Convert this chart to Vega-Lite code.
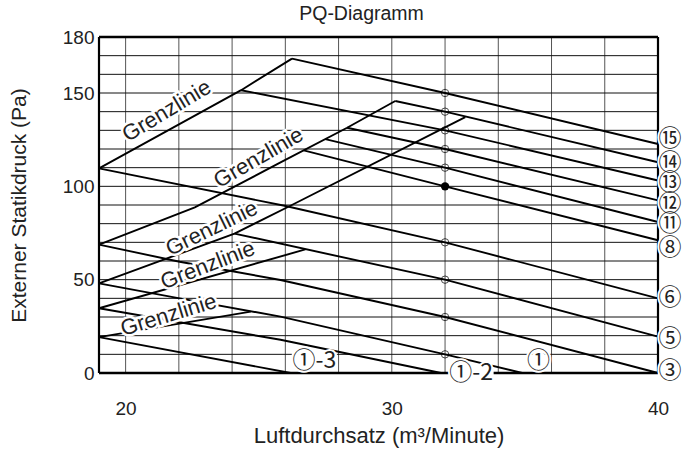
{
  "$schema": "https://vega.github.io/schema/vega-lite/v6.json",
  "width": 559,
  "height": 336,
  "autosize": {"type": "none"},
  "padding": {"left": 99, "top": 37, "right": 27, "bottom": 77},
  "background": "white",
  "title": {"text": "PQ-Diagramm", "fontSize": 19.5, "font": "Liberation Sans", "fontWeight": "normal", "color": "#222", "offset": 4, "dx": -17, "frame": "group"},
  "config": {"view": {"stroke": null}, "font": "Liberation Sans"},
  "datasets": {
    "curves": [
      {"c": "G1", "o": 1, "x": 19, "p": 109.6}, {"c": "G1", "o": 2, "x": 24.34, "p": 151.5}, {"c": "G1", "o": 3, "x": 26.25, "p": 168.4},
      {"c": "L15", "o": 1, "x": 26.25, "p": 168.4}, {"c": "L15", "o": 2, "x": 32, "p": 150}, {"c": "L15", "o": 3, "x": 40, "p": 122.7},
      {"c": "G2", "o": 1, "x": 19, "p": 68.8}, {"c": "G2", "o": 2, "x": 22.6, "p": 88.7}, {"c": "G2", "o": 3, "x": 25.82, "p": 112.8}, {"c": "G2", "o": 4, "x": 28.32, "p": 131.4}, {"c": "G2", "o": 5, "x": 30.13, "p": 145.7},
      {"c": "L14", "o": 1, "x": 30.13, "p": 145.7}, {"c": "L14", "o": 2, "x": 32, "p": 140}, {"c": "L14", "o": 3, "x": 40, "p": 112.9},
      {"c": "L13", "o": 1, "x": 24.34, "p": 151.5}, {"c": "L13", "o": 2, "x": 32, "p": 130}, {"c": "L13", "o": 3, "x": 40, "p": 103.1},
      {"c": "L12", "o": 1, "x": 28.32, "p": 131.4}, {"c": "L12", "o": 2, "x": 32, "p": 120}, {"c": "L12", "o": 3, "x": 40, "p": 92.5},
      {"c": "L11", "o": 1, "x": 27.5, "p": 125.3}, {"c": "L11", "o": 2, "x": 32, "p": 110}, {"c": "L11", "o": 3, "x": 40, "p": 80.9},
      {"c": "L8", "o": 1, "x": 26.69, "p": 119.3}, {"c": "L8", "o": 2, "x": 32, "p": 100}, {"c": "L8", "o": 3, "x": 40, "p": 71.1},
      {"c": "G3", "o": 1, "x": 19, "p": 48}, {"c": "G3", "o": 2, "x": 24.09, "p": 74.7}, {"c": "G3", "o": 3, "x": 26.19, "p": 89.6}, {"c": "G3", "o": 4, "x": 32.76, "p": 137.1},
      {"c": "L6", "o": 1, "x": 19, "p": 109.6}, {"c": "L6", "o": 2, "x": 25.97, "p": 89.6}, {"c": "L6", "o": 3, "x": 32, "p": 70}, {"c": "L6", "o": 4, "x": 40, "p": 40},
      {"c": "L5", "o": 1, "x": 24.09, "p": 74.7}, {"c": "L5", "o": 2, "x": 32, "p": 50}, {"c": "L5", "o": 3, "x": 40, "p": 19.5},
      {"c": "L3", "o": 1, "x": 19, "p": 68.8}, {"c": "L3", "o": 2, "x": 22.03, "p": 59.6}, {"c": "L3", "o": 3, "x": 25.82, "p": 49.8}, {"c": "L3", "o": 4, "x": 32, "p": 30}, {"c": "L3", "o": 5, "x": 40, "p": 0},
      {"c": "L1", "o": 1, "x": 19, "p": 48}, {"c": "L1", "o": 2, "x": 22.03, "p": 40}, {"c": "L1", "o": 3, "x": 25.82, "p": 30.2}, {"c": "L1", "o": 4, "x": 32, "p": 10}, {"c": "L1", "o": 5, "x": 34.9, "p": 0},
      {"c": "L1b", "o": 1, "x": 19, "p": 34.7}, {"c": "L1b", "o": 2, "x": 25.82, "p": 17.8}, {"c": "L1b", "o": 3, "x": 31.85, "p": 0},
      {"c": "L1c", "o": 1, "x": 19, "p": 19.2}, {"c": "L1c", "o": 2, "x": 26.2, "p": 0},
      {"c": "G4", "o": 1, "x": 19, "p": 34.7}, {"c": "G4", "o": 2, "x": 26.75, "p": 66.2},
      {"c": "G5", "o": 1, "x": 19, "p": 19.2}, {"c": "G5", "o": 2, "x": 24.7, "p": 32.9}
    ],
    "gx": [{"v": 20}, {"v": 22}, {"v": 24}, {"v": 26}, {"v": 28}, {"v": 30}, {"v": 32}, {"v": 34}, {"v": 36}, {"v": 38}],
    "gy": [{"v": 10}, {"v": 20}, {"v": 30}, {"v": 40}, {"v": 50}, {"v": 60}, {"v": 70}, {"v": 80}, {"v": 90}, {"v": 100}, {"v": 110}, {"v": 120}, {"v": 130}, {"v": 140}, {"v": 150}, {"v": 160}, {"v": 170}],
    "fx": [{"v": 19}, {"v": 40}],
    "fy": [{"v": 0}, {"v": 180}],
    "pts": [
      {"x": 32, "p": 150, "f": "open"}, {"x": 32, "p": 140, "f": "open"}, {"x": 32, "p": 130, "f": "open"},
      {"x": 32, "p": 120, "f": "open"}, {"x": 32, "p": 110, "f": "open"}, {"x": 32, "p": 100, "f": "filled"},
      {"x": 32, "p": 70, "f": "open"}, {"x": 32, "p": 50, "f": "open"}, {"x": 32, "p": 30, "f": "open"}, {"x": 32, "p": 10, "f": "open"}
    ],
    "glab": [
      {"x": 21.54, "p": 140.5, "a": -31, "t": "Grenzlinie"},
      {"x": 24.99, "p": 115.4, "a": -30, "t": "Grenzlinie"},
      {"x": 23.23, "p": 77.5, "a": -26, "t": "Grenzlinie"},
      {"x": 23.08, "p": 57.8, "a": -21, "t": "Grenzlinie"},
      {"x": 21.61, "p": 31.1, "a": -17, "t": "Grenzlinie"}
    ],
    "rlab": [
      {"x": 40.45, "p": 125.6, "t": "⑮"}, {"x": 40.45, "p": 112.4, "t": "⑭"}, {"x": 40.45, "p": 101.7, "t": "⑬"},
      {"x": 40.45, "p": 90.7, "t": "⑫"}, {"x": 40.45, "p": 80, "t": "⑪"}, {"x": 40.45, "p": 66.7, "t": "⑧"},
      {"x": 40.45, "p": 40, "t": "⑥"}, {"x": 40.45, "p": 18.1, "t": "⑤"}, {"x": 40.45, "p": 0.9, "t": "③"},
      {"x": 27.09, "p": 6.2, "t": "①-3"}, {"x": 32.98, "p": 0.2, "t": "①-2"}, {"x": 35.51, "p": 6.2, "t": "①"}
    ]
  },
  "layer": [
    {
      "data": {"name": "gx"},
      "mark": {"type": "rule", "color": "#555", "strokeWidth": 1},
      "encoding": {
        "x": {"field": "v", "type": "quantitative", "scale": {"domain": [19, 40], "nice": false, "zero": false},
          "axis": {"values": [20, 30, 40], "grid": false, "ticks": false, "domain": false,
            "labelFlush": false, "labelOverlap": false, "labelFontSize": 19, "labelColor": "#222", "labelPadding": 26,
            "title": "Luftdurchsatz (m³/Minute)", "titleFontSize": 22, "titleFontWeight": "normal", "titleColor": "#222", "titlePadding": 7}}
      }
    },
    {
      "data": {"name": "gy"},
      "mark": {"type": "rule", "color": "#111", "strokeWidth": 1},
      "encoding": {
        "y": {"field": "v", "type": "quantitative", "scale": {"domain": [0, 180], "nice": false, "zero": true},
          "axis": {"values": [0, 50, 100, 150, 180], "grid": false, "ticks": false, "domain": false,
            "labelOverlap": false, "labelFontSize": 19, "labelColor": "#222", "labelPadding": 5,
            "title": "Externer Statikdruck (Pa)", "titleFontSize": 21, "titleFontWeight": "normal", "titleColor": "#222", "titlePadding": 33}}
      }
    },
    {
      "data": {"name": "fx"},
      "mark": {"type": "rule", "color": "#000", "strokeWidth": 2.2},
      "encoding": {"x": {"field": "v", "type": "quantitative"}}
    },
    {
      "data": {"name": "fy"},
      "mark": {"type": "rule", "color": "#000", "strokeWidth": 2.4},
      "encoding": {"y": {"field": "v", "type": "quantitative"}}
    },
    {
      "data": {"name": "rlab"},
      "transform": [{"filter": "datum.x < 40 && length(datum.t) > 1"}],
      "mark": {"type": "point", "shape": "M-1,-0.4L1,-0.4L1,0.4L-1,0.4Z", "filled": true, "color": "white", "opacity": 1, "size": 2025},
      "encoding": {"x": {"field": "x", "type": "quantitative"}, "y": {"field": "p", "type": "quantitative"}}
    },
    {
      "data": {"name": "rlab"},
      "transform": [{"filter": "datum.x < 40 && length(datum.t) === 1"}],
      "mark": {"type": "point", "shape": "circle", "filled": true, "color": "white", "opacity": 1, "size": 360},
      "encoding": {"x": {"field": "x", "type": "quantitative"}, "y": {"field": "p", "type": "quantitative"}}
    },
    {
      "data": {"name": "curves"},
      "mark": {"type": "line", "color": "#000", "strokeWidth": 1.9},
      "encoding": {
        "x": {"field": "x", "type": "quantitative"},
        "y": {"field": "p", "type": "quantitative"},
        "detail": {"field": "c"},
        "order": {"field": "o", "type": "quantitative"}
      }
    },
    {
      "data": {"name": "pts"},
      "transform": [{"filter": "datum.f === 'open'"}],
      "mark": {"type": "point", "shape": "circle", "filled": false, "stroke": "#000", "strokeWidth": 1, "size": 55},
      "encoding": {"x": {"field": "x", "type": "quantitative"}, "y": {"field": "p", "type": "quantitative"}}
    },
    {
      "data": {"name": "pts"},
      "transform": [{"filter": "datum.f === 'filled'"}],
      "mark": {"type": "point", "shape": "circle", "filled": true, "color": "#000", "opacity": 1, "size": 70},
      "encoding": {"x": {"field": "x", "type": "quantitative"}, "y": {"field": "p", "type": "quantitative"}}
    },
    {
      "data": {"name": "glab"},
      "mark": {"type": "text", "font": "Liberation Sans", "fontSize": 22, "stroke": "white", "strokeWidth": 5, "fill": "white", "align": "center", "baseline": "middle"},
      "encoding": {"x": {"field": "x", "type": "quantitative"}, "y": {"field": "p", "type": "quantitative"}, "text": {"field": "t"}, "angle": {"field": "a", "type": "quantitative", "scale": null}}
    },
    {
      "data": {"name": "glab"},
      "mark": {"type": "text", "font": "Liberation Sans", "fontSize": 22, "color": "#222", "align": "center", "baseline": "middle"},
      "encoding": {"x": {"field": "x", "type": "quantitative"}, "y": {"field": "p", "type": "quantitative"}, "text": {"field": "t"}, "angle": {"field": "a", "type": "quantitative", "scale": null}}
    },
    {
      "data": {"name": "rlab"},
      "mark": {"type": "text", "font": "Noto Sans CJK JP", "fontSize": 23, "stroke": "white", "strokeWidth": 4, "fill": "white", "align": "center", "baseline": "middle"},
      "encoding": {"x": {"field": "x", "type": "quantitative"}, "y": {"field": "p", "type": "quantitative"}, "text": {"field": "t"}}
    },
    {
      "data": {"name": "rlab"},
      "mark": {"type": "text", "font": "Noto Sans CJK JP", "fontSize": 23, "color": "#222", "align": "center", "baseline": "middle"},
      "encoding": {"x": {"field": "x", "type": "quantitative"}, "y": {"field": "p", "type": "quantitative"}, "text": {"field": "t"}}
    }
  ]
}
